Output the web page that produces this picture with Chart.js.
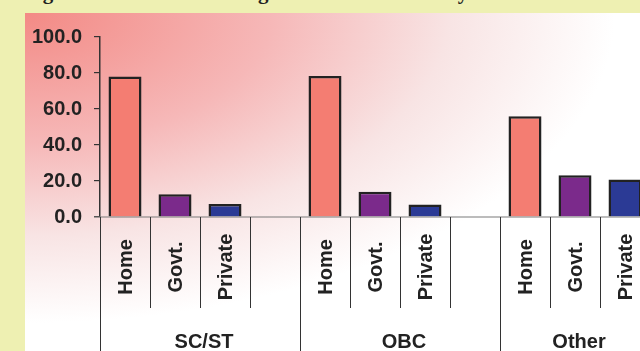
<!DOCTYPE html>
<html>
<head>
<meta charset="utf-8">
<script src="https://cdn.jsdelivr.net/npm/chart.js@4"></script>
<style>
  html, body { margin: 0; padding: 0; }
  body { width: 640px; height: 351px; overflow: hidden; position: relative; background: #eef0b2; font-family: "Liberation Sans", Arial, sans-serif; }
  .title span { position: absolute; top: -20px; font: bold 21px "Liberation Serif", "Times New Roman", serif; color: #222; white-space: nowrap; }
  #panel { position: absolute; left: 25px; top: 13px; width: 615px; height: 338px;
    background: radial-gradient(ellipse 590px 310px at 0 0, #f38a85 0%, #f6b8b8 42%, #f8e4e4 72%, #ffffff 100%); }
  #wrap { position: absolute; left: 25px; top: 13px; width: 625px; height: 338px; }
</style>
</head>
<body>
<div class="title"><span style="left:24px">Fig</span><span style="left:181px">Schooling</span><span style="left:446px">by</span></div>
<div id="panel"></div>
<div id="wrap"><canvas id="chart" width="625" height="338"></canvas></div>
<script>
document.addEventListener('DOMContentLoaded', () => {
  const categories = ['SC/ST', 'OBC', 'Other'];
  const schoolTypes = ['Home', 'Govt.', 'Private'];
  const homeValues = [78.0, 78.3, 56.0];
  const govtValues = [12.7, 14.0, 23.2];
  const privateValues = [7.2, 7.0, 20.9];
  const yTicks = [0, 20, 40, 60, 80, 100];
  const typeColors = ['#f47d72', '#7b2a8b', '#2b3a95'];

  // one slot per school type, with an empty slot between caste groups
  const labels = [];
  const values = [];
  const colors = [];
  categories.forEach((cat, i) => {
    const row = [homeValues[i], govtValues[i], privateValues[i]];
    schoolTypes.forEach((t, j) => {
      labels.push(t);
      values.push(row[j]);
      colors.push(typeColors[j]);
    });
    if (i < categories.length - 1) {
      labels.push('');
      values.push(null);
      colors.push('transparent');
    }
  });

  const axisLabels = {
    id: 'axisLabels',
    afterDraw(chart) {
      const ctx = chart.ctx;
      const x = chart.scales.x;
      const y = chart.scales.y;
      const base = y.getPixelForValue(0);
      const half = (x.getPixelForValue(1) - x.getPixelForValue(0)) / 2;
      const bottom = chart.height;
      ctx.save();
      // baseline
      ctx.strokeStyle = '#7a7a7a';
      ctx.lineWidth = 1.2;
      ctx.beginPath();
      ctx.moveTo(x.left - 6, base);
      ctx.lineTo(x.right, base);
      ctx.stroke();

      ctx.strokeStyle = '#333';
      ctx.lineWidth = 1;
      ctx.fillStyle = '#222';
      ctx.font = 'bold 20px "Liberation Sans", Arial, sans-serif';
      let groupStart = x.left;
      let idx = 0;
      categories.forEach((cat, i) => {
        const n = i < categories.length - 1 ? 4 : 3;
        // inner dividers and rotated labels
        for (let k = 0; k < n; k++) {
          const cx = x.getPixelForValue(idx + k);
          if (k > 0) {
            ctx.beginPath();
            ctx.moveTo(Math.round(cx - half) + 0.5, base);
            ctx.lineTo(Math.round(cx - half) + 0.5, base + 91);
            ctx.stroke();
          }
          if (labels[idx + k]) {
            ctx.save();
            ctx.translate(cx, base + 50);
            ctx.rotate(-Math.PI / 2);
            ctx.textAlign = 'center';
            ctx.textBaseline = 'middle';
            ctx.fillText(labels[idx + k], 0, 1);
            ctx.restore();
          }
        }
        const groupEnd = x.getPixelForValue(idx + n - 1) + half;
        // group divider
        ctx.beginPath();
        ctx.moveTo(Math.round(groupStart) + 0.5, base);
        ctx.lineTo(Math.round(groupStart) + 0.5, bottom);
        ctx.stroke();
        ctx.textAlign = 'center';
        ctx.textBaseline = 'alphabetic';
        ctx.fillText(cat, (groupStart + groupEnd) / 2 + 4, base + 131);
        groupStart = groupEnd;
        idx += n;
      });
      ctx.restore();
    }
  };

  new Chart(document.getElementById('chart').getContext('2d'), {
    type: 'bar',
    data: {
      labels: labels,
      datasets: [{
        data: values,
        backgroundColor: colors,
        borderColor: '#222',
        borderWidth: 2.5,
        barPercentage: 0.66,
        categoryPercentage: 1
      }]
    },
    options: {
      responsive: false,
      animation: false,
      layout: { padding: { top: 14, bottom: 134, left: 0, right: 0 } },
      plugins: { legend: { display: false }, tooltip: { enabled: false } },
      scales: {
        x: {
          display: false,
          offset: true,
          grid: { display: false }
        },
        y: {
          min: 0,
          max: 100,
          afterFit(scale) { scale.width = 75; },
          afterBuildTicks(scale) { scale.ticks = yTicks.map(v => ({ value: v })); },
          border: { display: true, color: '#333', width: 1.5 },
          grid: { drawOnChartArea: false, drawTicks: true, tickLength: 6, color: '#333', lineWidth: 1.2 },
          ticks: {
            padding: 12,
            color: '#222',
            font: { family: '"Liberation Sans", Arial, sans-serif', size: 20, weight: 'bold' },
            callback: v => Number(v).toFixed(1)
          }
        }
      }
    },
    plugins: [axisLabels]
  });
});
</script>
</body>
</html>
